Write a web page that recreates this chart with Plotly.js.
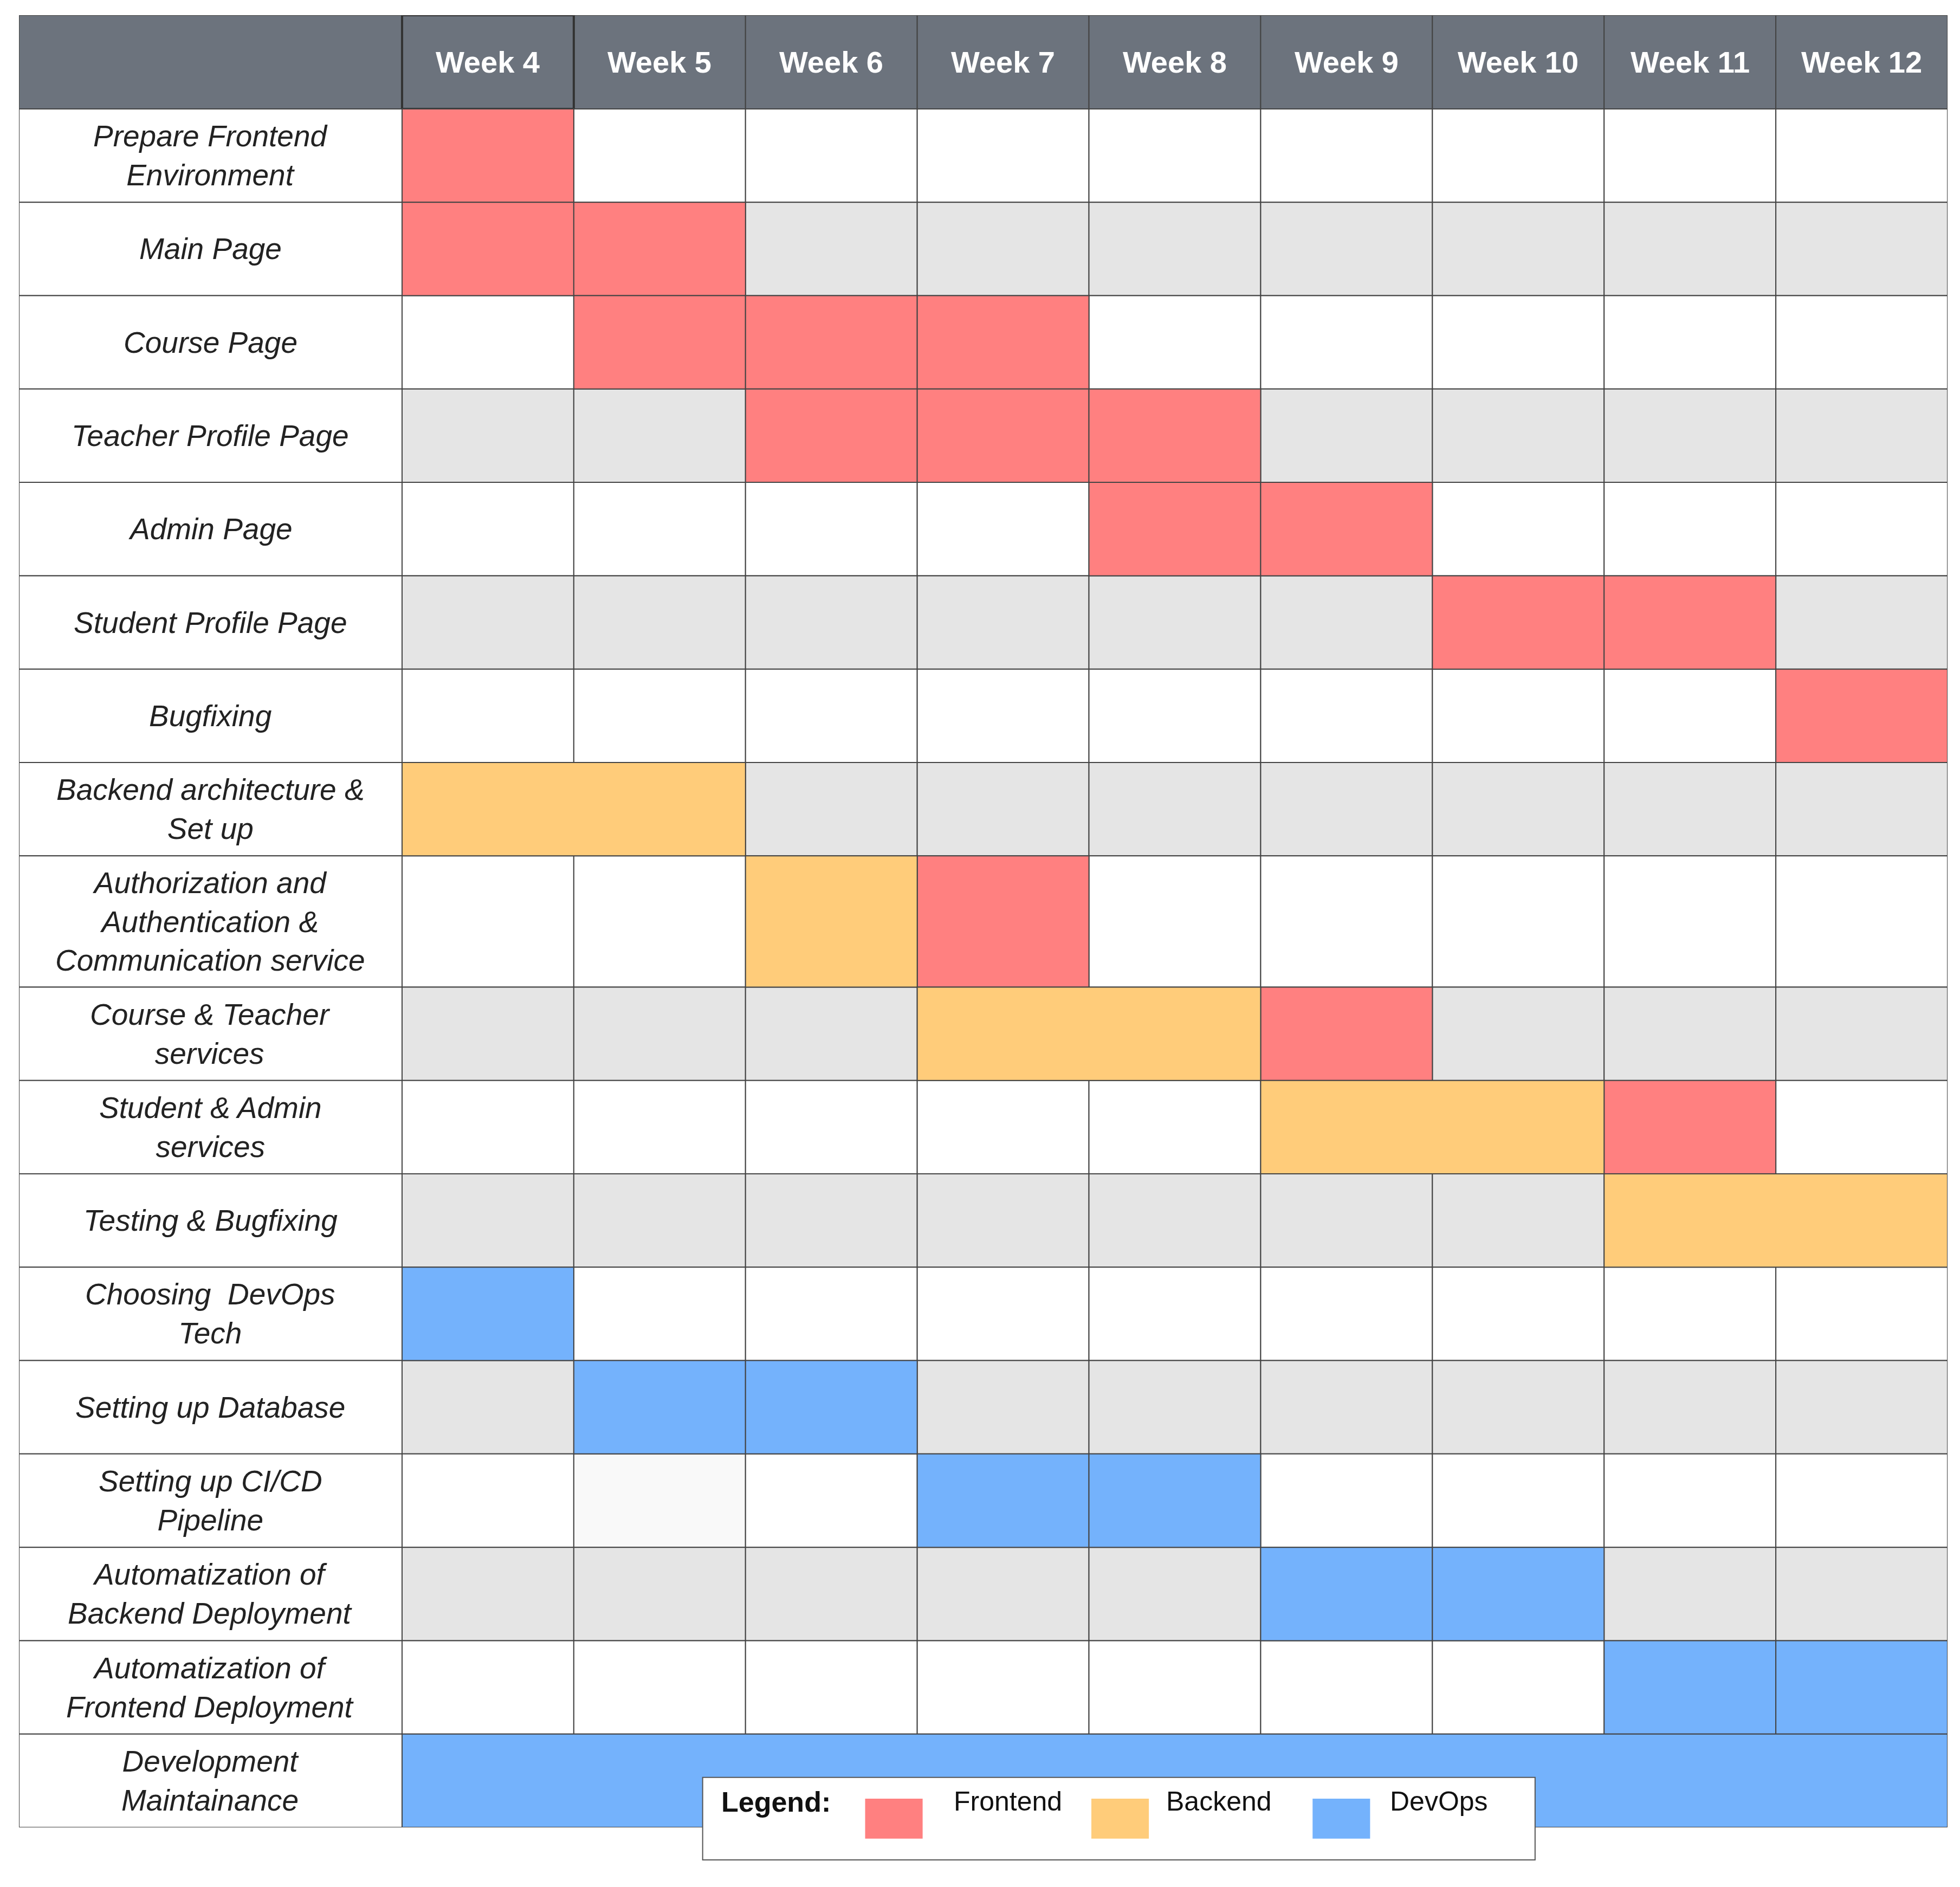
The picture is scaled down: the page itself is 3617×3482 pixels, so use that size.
<!DOCTYPE html>
<html>
<head>
<meta charset="utf-8">
<script src="https://cdn.plot.ly/plotly-3.0.1.min.js"></script>
<style>body{margin:0;background:#fff}</style>
</head>
<body>
<div id="plot" style="width:3617px;height:3482px"></div>
<script>
// weeks and tasks
var weeks = ["Week 4", "Week 5", "Week 6", "Week 7", "Week 8", "Week 9", "Week 10", "Week 11", "Week 12"];
var tasks = [
  "Prepare Frontend<br>Environment", "Main Page", "Course Page", "Teacher Profile Page",
  "Admin Page", "Student Profile Page", "Bugfixing", "Backend architecture &<br>Set up",
  "Authorization and<br>Authentication &<br>Communication service", "Course & Teacher<br>services",
  "Student & Admin<br>services", "Testing & Bugfixing", "Choosing  DevOps<br>Tech",
  "Setting up Database", "Setting up CI/CD<br>Pipeline", "Automatization of<br>Backend Deployment",
  "Automatization of<br>Frontend Deployment", "Development<br>Maintainance"
];
var teams = ["Frontend", "Backend", "DevOps"];

// scheduled blocks: task index, first week, number of weeks, team
var segTask  = [0, 1, 1, 2, 2, 2, 3, 3, 3, 4, 4, 5, 5, 6, 8, 9, 10,  7, 8, 9, 10, 11,  12, 13, 13, 14, 14, 15, 15, 16, 16, 17];
var segWeek  = [4, 4, 5, 5, 6, 7, 6, 7, 8, 8, 9, 10, 11, 12, 7, 9, 11,  4, 6, 7, 9, 11,  4, 5, 6, 7, 8, 9, 10, 11, 12, 4];
var segLen   = [1, 1, 1, 1, 1, 1, 1, 1, 1, 1, 1, 1, 1, 1, 1, 1, 1,  2, 1, 2, 2, 2,  1, 1, 1, 1, 1, 1, 1, 1, 1, 9];
var segTeam  = [0, 0, 0, 0, 0, 0, 0, 0, 0, 0, 0, 0, 0, 0, 0, 0, 0,  1, 1, 1, 1, 1,  2, 2, 2, 2, 2, 2, 2, 2, 2, 2];

// layout constants (displayed px units)
var teamColors = ["#ff8080", "#ffcc7a", "#74b2fc"];
var headH = 75, rowH = 74.7, tallRow = 8, tallH = 105;
var labelW = 2.231;
var gridLine = {color: "#444", width: 2};

var rowTop = [], rowHt = [];
var yy = 12 + headH;
tasks.forEach(function (t, i) {
  var h = i === tallRow ? tallH : rowH;
  rowTop.push(yy); rowHt.push(h); yy += h;
});
var bottom = yy;

var traces = [];
function barTrace(y, w, base, len, color, line) {
  return {type: "bar", orientation: "h", y: y, width: w, base: base, x: len,
    marker: {color: color, line: line || gridLine}, hoverinfo: "skip", showlegend: false};
}

// header
var hy = [12 + headH / 2], hb = [-labelW], hl = [labelW];
weeks.forEach(function (w, j) { hy.push(12 + headH / 2); hb.push(j); hl.push(1); });
traces.push(barTrace(hy, hy.map(function () { return headH; }), hb, hl, "#6c737d"));
traces.push(barTrace([12 + headH / 2], [headH], [0], [1], "#6c737d", {color: "#333", width: 4}));

// label column
traces.push(barTrace(rowTop.map(function (t, i) { return t + rowHt[i] / 2; }), rowHt,
  tasks.map(function () { return -labelW; }), tasks.map(function () { return labelW; }), "#ffffff"));

// background cells not covered by a block
var bgY = [], bgW = [], bgB = [], bgC = [];
tasks.forEach(function (t, i) {
  weeks.forEach(function (w, j) {
    var wk = j + 4, covered = false;
    segTask.forEach(function (s, k) {
      if (s === i && wk >= segWeek[k] && wk < segWeek[k] + segLen[k]) covered = true;
    });
    if (!covered) {
      bgY.push(rowTop[i] + rowHt[i] / 2); bgW.push(rowHt[i]); bgB.push(j);
      bgC.push(i === 14 && j === 1 ? "#f9f9f9" : (i % 2 ? "#e5e5e5" : "#ffffff"));
    }
  });
});
traces.push(barTrace(bgY, bgW, bgB, bgW.map(function () { return 1; }), bgC));

// scheduled blocks
traces.push(barTrace(
  segTask.map(function (i) { return rowTop[i] + rowHt[i] / 2; }),
  segTask.map(function (i) { return rowHt[i]; }),
  segWeek.map(function (w) { return w - 4; }), segLen,
  segTeam.map(function (t) { return teamColors[t]; })));

var ann = [];
weeks.forEach(function (w, j) {
  ann.push({x: j + 0.5, y: 12 + headH / 2, xref: "x", yref: "y", text: "<b>" + w + "</b>", showarrow: false,
    font: {family: "Liberation Sans, Arial", size: 56, color: "#ffffff"}});
});
tasks.forEach(function (t, i) {
  ann.push({x: -labelW / 2, y: rowTop[i] + rowHt[i] / 2, xref: "x", yref: "y", text: "<i>" + t + "</i>",
    showarrow: false, font: {family: "Liberation Sans, Arial", size: 55, color: "#222"}});
});

// legend (paper coords from displayed px)
function px(X) { return (X - 15) / 1543; }
function py(Y) { return (1463 - Y) / 1451; }
var shapes = [{type: "rect", xref: "paper", yref: "paper", x0: px(562), x1: px(1228), y0: py(1489), y1: py(1423),
  fillcolor: "#ffffff", line: {color: "#555", width: 2}, layer: "above"}];
ann.push({xref: "paper", yref: "paper", x: px(576), y: py(1456), xanchor: "left", text: "<b>Legend:</b>",
  showarrow: false, font: {family: "Liberation Sans, Arial", size: 52, color: "#111"}});
var swX = [692, 873, 1050], txX = [762, 932, 1111];
teams.forEach(function (t, k) {
  shapes.push({type: "rect", xref: "paper", yref: "paper", x0: px(swX[k]), x1: px(swX[k] + 46),
    y0: py(1472), y1: py(1440), fillcolor: teamColors[k], line: {width: 0}, layer: "above"});
  ann.push({xref: "paper", yref: "paper", x: px(txX[k]), y: py(1455), xanchor: "left", text: t,
    showarrow: false, font: {family: "Liberation Sans, Arial", size: 50, color: "#111"}});
});

var s = 3617 / 1568;
Plotly.newPlot("plot", traces, {
  width: 3617, height: 3482, barmode: "overlay", bargap: 0,
  paper_bgcolor: "#fff", plot_bgcolor: "#fff",
  margin: {l: 15 * s, r: 3617 - 1558 * s, t: 12 * s, b: 3482 - bottom * s, pad: 0},
  xaxis: {range: [-labelW, 9], visible: false, fixedrange: true},
  yaxis: {range: [bottom, 12], visible: false, fixedrange: true},
  annotations: ann, shapes: shapes, showlegend: false
}, {staticPlot: true});
</script>
</body>
</html>
